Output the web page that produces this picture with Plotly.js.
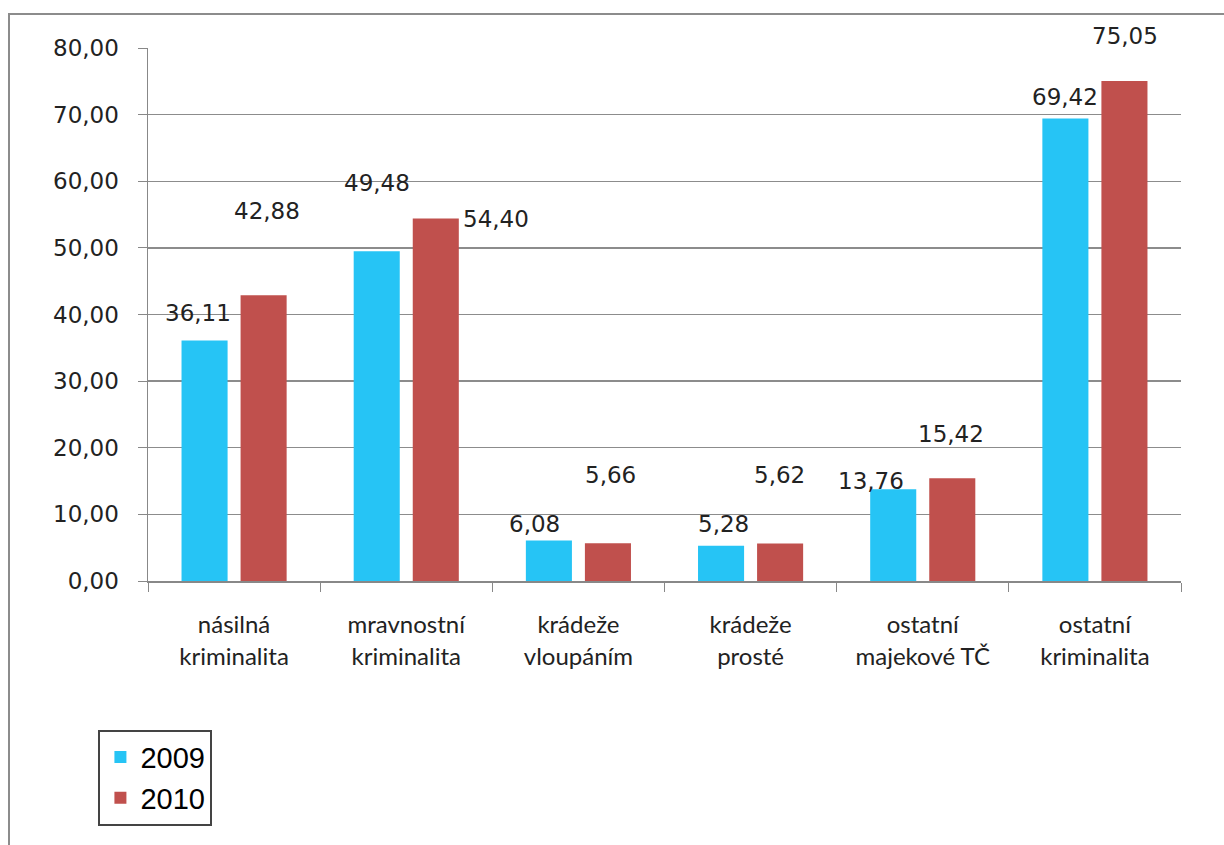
<!DOCTYPE html>
<html>
<head>
<meta charset="utf-8">
<script src="https://cdn.plot.ly/plotly-3.0.1.min.js"></script>
<style>
html,body{margin:0;padding:0;background:#fff;overflow:hidden;}
#frame{position:absolute;left:8px;top:13px;width:1240px;height:860px;border:2px solid #8c8c8c;box-sizing:border-box;}
#chart{position:absolute;left:0;top:0;width:1224px;height:845px;}
</style>
</head>
<body>
<div id="frame"></div>
<div id="chart"></div>
<script>
const categories = ["násilná<br>kriminalita","mravnostní<br>kriminalita","krádeže<br>vloupáním","krádeže<br>prosté","ostatní<br>majekové TČ","ostatní<br>kriminalita"];
const values2009 = [36.11, 49.48, 6.08, 5.28, 13.76, 69.42];
const values2010 = [42.88, 54.40, 5.66, 5.62, 15.42, 75.05];
const seriesNames = ["2009","2010"];
const yTickVals = [0,10,20,30,40,50,60,70,80];

// label placement offsets (pixels), mimicking the original's label layout
const off2009 = [[-7,27],[0,68],[-14,16],[2,22],[-22,8],[0,21]];
const off2010 = [[3,84],[60,0],[3,68],[-1,69],[-1,44],[1,45]];

const fmt = v => v.toFixed(2).replace('.', ',');
const labelFont = {family:"DejaVu Sans", size:23, color:"#222"};

const annotations = [];
function addLabels(vals, offs, dx){
  vals.forEach((v,i)=>{
    annotations.push({
      x: i, y: v, xref:'x', yref:'y', text: fmt(v), showarrow:false,
      xshift: dx + offs[i][0], yshift: offs[i][1], yanchor:'middle', xanchor:'center',
      font: labelFont
    });
  });
}
addLabels(values2009, off2009, -29.5);
addLabels(values2010, off2010, 29.5);

const traces = [
  {type:'bar', x:categories, y:values2009, name:seriesNames[0], marker:{color:'#26C4F5'}, legendgroup:'a', hoverinfo:'none'},
  {type:'bar', x:categories, y:values2010, name:seriesNames[1], marker:{color:'#C0504D'}, legendgroup:'b', hoverinfo:'none'}
];

const layout = {
  width:1224, height:845,
  paper_bgcolor:'rgba(0,0,0,0)', plot_bgcolor:'rgba(0,0,0,0)',
  margin:{l:148, r:43, t:48, b:264},
  barmode:'group', bargap:0.314, bargroupgap:0.22,
  showlegend:true,
  legend:{x:-0.048, y:-0.279, xanchor:'left', yanchor:'top', bordercolor:'#444', borderwidth:2,
          font:{family:'Liberation Sans', size:29, color:'#000'}, tracegroupgap:10, bgcolor:'#fff',
          traceorder:'normal', itemwidth:30},
  xaxis:{type:'category', showline:true, linecolor:'#888', linewidth:1.5, ticks:'outside', ticklen:9,
         tickcolor:'#888', tickson:'boundaries', showgrid:false, ticklabelstandoff:22,
         tickfont:{family:'Lato', size:24, color:'#222'}, fixedrange:true},
  yaxis:{range:[0,80], tickvals:yTickVals, ticktext:yTickVals.map(fmt), showline:true, linecolor:'#888',
         linewidth:1.5, ticks:'outside', ticklen:9, tickcolor:'#888', showgrid:true, gridcolor:'#8c8c8c',
         gridwidth:1.3, zeroline:false, ticklabelstandoff:14,
         tickfont:{family:'DejaVu Sans', size:23, color:'#222'}, fixedrange:true},
  annotations: annotations
};
Plotly.newPlot('chart', traces, layout, {displayModeBar:false, staticPlot:true});
</script>
</body>
</html>
